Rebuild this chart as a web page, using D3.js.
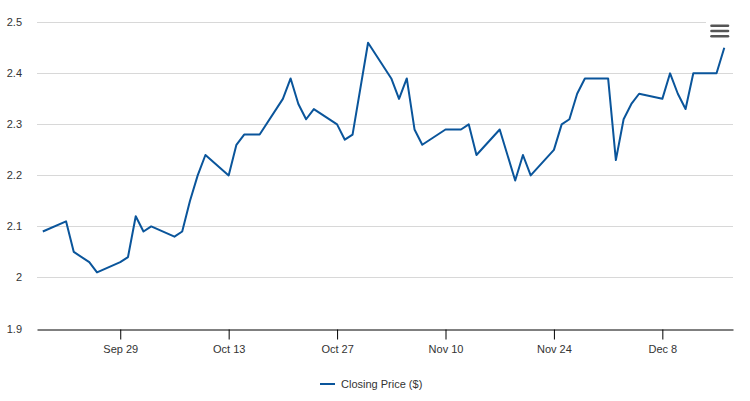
<!DOCTYPE html>
<html>
<head>
<meta charset="utf-8">
<script src="https://cdn.jsdelivr.net/npm/d3@7"></script>
<style>
  body { margin: 0; background: #fff; }
  svg { display: block; font-family: "Liberation Sans", Arial, sans-serif; }
</style>
</head>
<body>
<svg id="chart" width="750" height="401"></svg>
<script>
// closing prices, trading days only (weekends show as gaps on the time axis)
const dates = [
  "2014-09-19", "2014-09-22", "2014-09-23", "2014-09-25", "2014-09-26",
  "2014-09-29", "2014-09-30", "2014-10-01", "2014-10-02", "2014-10-03",
  "2014-10-06", "2014-10-07", "2014-10-08", "2014-10-09", "2014-10-10",
  "2014-10-13", "2014-10-14", "2014-10-15", "2014-10-16", "2014-10-17",
  "2014-10-20", "2014-10-21", "2014-10-22", "2014-10-23", "2014-10-24",
  "2014-10-27", "2014-10-28", "2014-10-29", "2014-10-31",
  "2014-11-03", "2014-11-04", "2014-11-05", "2014-11-06", "2014-11-07",
  "2014-11-10", "2014-11-11", "2014-11-12", "2014-11-13", "2014-11-14",
  "2014-11-17", "2014-11-19", "2014-11-20", "2014-11-21",
  "2014-11-24", "2014-11-25", "2014-11-26", "2014-11-27", "2014-11-28",
  "2014-12-01", "2014-12-02", "2014-12-03", "2014-12-04", "2014-12-05",
  "2014-12-08", "2014-12-09", "2014-12-10", "2014-12-11", "2014-12-12",
  "2014-12-15", "2014-12-16"
];
const prices = [
  2.09, 2.11, 2.05, 2.03, 2.01,
  2.03, 2.04, 2.12, 2.09, 2.10,
  2.08, 2.09, 2.15, 2.20, 2.24,
  2.20, 2.26, 2.28, 2.28, 2.28,
  2.35, 2.39, 2.34, 2.31, 2.33,
  2.30, 2.27, 2.28, 2.46,
  2.39, 2.35, 2.39, 2.29, 2.26,
  2.29, 2.29, 2.29, 2.30, 2.24,
  2.29, 2.19, 2.24, 2.20,
  2.25, 2.30, 2.31, 2.36, 2.39,
  2.39, 2.23, 2.31, 2.34, 2.36,
  2.35, 2.40, 2.36, 2.33, 2.40,
  2.40, 2.45
];
const tickDates = ["2014-09-29", "2014-10-13", "2014-10-27", "2014-11-10", "2014-11-24", "2014-12-08"];
const yTicks = [1.9, 2.0, 2.1, 2.2, 2.3, 2.4, 2.5];
const seriesName = "Closing Price ($)";

const lineColor = "#0a559b";
const textColor = "#333333";
const gridColor = "#d8d8d8";

const parse = d3.utcParse("%Y-%m-%d");
const data = dates.map((d, i) => ({ date: parse(d), value: prices[i] }));

const svg = d3.select("#chart");
const plotLeft = 37, plotRight = 733, plotTop = 22.3, plotBottom = 328.5;

let xScale = d3.scaleUtc()
    .domain([Date.UTC(2014, 8, 18, 6), Date.UTC(2014, 11, 17, 3)])
    .range([plotLeft, plotRight]);

let yScale = d3.scaleLinear()
    .domain([1.9, 2.5])
    .range([plotBottom, plotTop]);

// horizontal grid lines
svg.append("g")
    .selectAll("line")
    .data(yTicks.slice(1))
    .enter()
    .append("line")
    .attr("x1", plotLeft)
    .attr("x2", plotRight)
    .attr("y1", d => Math.round(yScale(d)) + 0.5)
    .attr("y2", d => Math.round(yScale(d)) + 0.5)
    .attr("stroke", gridColor)
    .attr("stroke-width", 1);

// y labels
svg.append("g")
    .selectAll("text")
    .data(yTicks)
    .enter()
    .append("text")
    .attr("x", 22)
    .attr("y", d => yScale(d) + 4)
    .attr("text-anchor", "end")
    .style("font-size", "11px")
    .style("fill", textColor)
    .text(d => d3.format("~g")(d));

// x axis
let xAxis = svg.append("g")
    .attr("transform", "translate(0," + (Math.round(plotBottom) + 0.5) + ")")
    .call(d3.axisBottom(xScale)
        .tickValues(tickDates.map(parse))
        .tickSize(10)
        .tickSizeOuter(0)
        .tickPadding(6)
        .tickFormat(d3.utcFormat("%b %-d")));
xAxis.select(".domain").attr("stroke", "#000");
xAxis.selectAll(".tick line").attr("stroke", "#000");
xAxis.selectAll("text")
    .style("font-family", "\"Liberation Sans\", Arial, sans-serif")
    .style("font-size", "11px")
    .style("fill", textColor);

// price line
let line = d3.line()
    .x(d => xScale(d.date))
    .y(d => yScale(d.value));

svg.append("path")
    .datum(data)
    .attr("d", line)
    .attr("fill", "none")
    .attr("stroke", lineColor)
    .attr("stroke-width", 2)
    .attr("stroke-linejoin", "round");

// export menu button
let menu = svg.append("g").attr("transform", "translate(706,14)");
menu.append("rect")
    .attr("width", 28)
    .attr("height", 26)
    .attr("fill", "#fff");
[11.7, 17, 22.3].forEach(function(y) {
    menu.append("line")
        .attr("x1", 5.5)
        .attr("x2", 22)
        .attr("y1", y)
        .attr("y2", y)
        .attr("stroke", "#555")
        .attr("stroke-width", 2.6)
        .attr("stroke-linecap", "round");
});

// legend
let legend = svg.append("g").attr("transform", "translate(320,384)");
legend.append("line")
    .attr("x1", 0)
    .attr("x2", 15)
    .attr("stroke", lineColor)
    .attr("stroke-width", 2);
legend.append("text")
    .attr("x", 21)
    .attr("y", 4)
    .style("font-size", "11px")
    .style("fill", textColor)
    .text(seriesName);
</script>
</body>
</html>
